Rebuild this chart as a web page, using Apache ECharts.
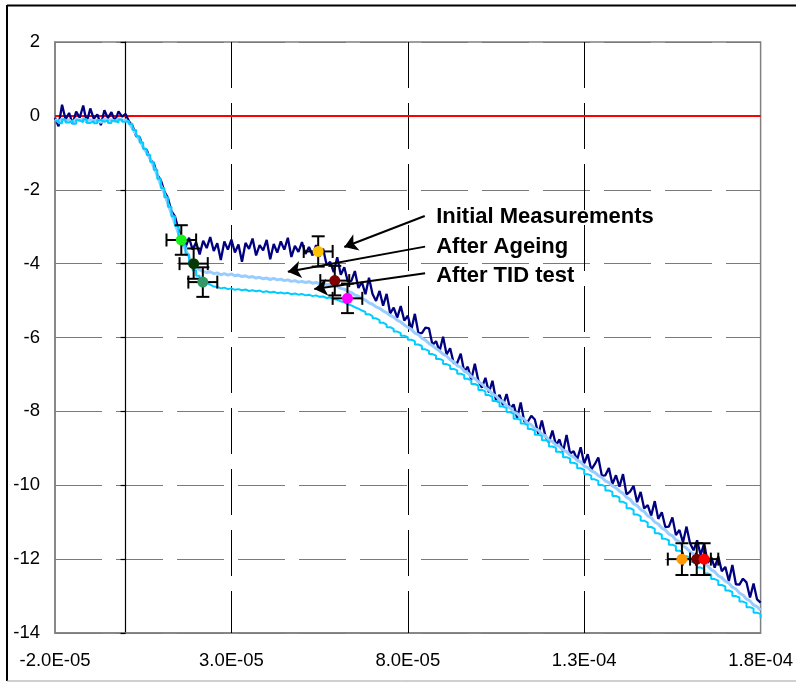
<!DOCTYPE html>
<html>
<head>
<meta charset="utf-8">
<script src="https://cdn.jsdelivr.net/npm/echarts@6/dist/echarts.min.js"></script>
<style>
html, body { margin: 0; padding: 0; background: #fff; }
#chart { width: 796px; height: 682px; }
</style>
</head>
<body>
<div id="chart"></div>
<script>
// Sample times in microseconds (axis labels are shown in seconds)
const timeUs = [
  -20,-19,-18,-17,-16,-15,-14,-13,-12,-11,-10,-9,-8,-7,-6,-5,-4,-3,-2,-1,
  0,1,2,3,4,5,6,7,8,9,10,11,12,13,14,15,16,17,18,19,
  20,21,22,23,24,25,26,27,28,29,30,31,32,33,34,35,36,37,38,39,
  40,41,42,43,44,45,46,47,48,49,50,51,52,53,54,55,56,57,58,59,
  60,61,62,63,64,65,66,67,68,69,70,71,72,73,74,75,76,77,78,79,
  80,81,82,83,84,85,86,87,88,89,90,91,92,93,94,95,96,97,98,99,
  100,101,102,103,104,105,106,107,108,109,110,111,112,113,114,115,116,117,118,119,
  120,121,122,123,124,125,126,127,128,129,130,131,132,133,134,135,136,137,138,139,
  140,141,142,143,144,145,146,147,148,149,150,151,152,153,154,155,156,157,158,159,
  160,161,162,163,164,165,166,167,168,169,170,171,172,173,174,175,176,177,178,179,
  180
];

// Initial Measurements
const initialValues = [
  -0.05,-0.28,0.30,-0.10,0.08,-0.22,0.12,-0.05,0.28,-0.18,0.20,-0.08,0.04,-0.25,0.15,-0.06,0.10,-0.15,0.12,-0.02,
  0.05,-0.15,-0.28,-0.55,-0.58,-0.86,-0.92,-1.18,-1.28,-1.60,-1.74,-2.05,-2.22,-2.58,-2.72,-3.08,-3.30,-3.55,-3.30,-3.62,
  -3.42,-3.75,-3.38,-3.58,-3.28,-3.66,-3.45,-3.90,-3.40,-3.62,-3.35,-3.70,-3.48,-3.95,-3.44,-3.60,-3.32,-3.78,-3.50,-3.64,
  -3.36,-3.88,-3.47,-3.70,-3.40,-3.62,-3.30,-3.82,-3.52,-3.68,-3.42,-3.74,-3.55,-3.78,-3.50,-3.80,-3.60,-4.04,-3.95,-4.23,
  -3.83,-4.30,-4.10,-4.49,-4.47,-4.20,-4.66,-4.50,-4.83,-4.38,-4.82,-5.01,-4.74,-5.14,-4.82,-5.35,-5.19,-5.46,-5.15,-5.54,
  -5.41,-5.79,-5.36,-5.88,-5.88,-5.73,-5.75,-6.20,-6.10,-6.37,-5.98,-6.46,-6.29,-6.69,-6.69,-6.44,-6.93,-6.79,-7.14,-6.71,
  -7.17,-7.36,-7.09,-7.49,-7.17,-7.70,-7.55,-7.83,-7.53,-7.93,-7.81,-8.18,-7.76,-8.27,-8.28,-8.12,-8.22,-8.62,-8.25,-8.67,
  -8.84,-8.52,-8.92,-8.76,-9.10,-8.64,-9.14,-9.08,-9.31,-8.97,-9.41,-9.16,-9.58,-9.43,-9.25,-9.74,-9.73,-9.53,-9.97,-9.73,
  -10.04,-9.70,-10.25,-10.17,-10.02,-10.46,-10.18,-10.63,-10.54,-10.82,-10.43,-10.91,-10.73,-11.13,-11.12,-10.87,-11.35,-11.21,-11.55,-11.12,
  -11.57,-11.76,-11.49,-11.89,-11.57,-12.10,-11.95,-12.23,-11.93,-12.33,-12.21,-12.59,-12.16,-12.68,-12.69,-12.53,-12.63,-13.04,-12.66,-13.09,
  -13.18
];

// After Ageing
const ageingValues = [
  -0.10,-0.16,-0.08,-0.14,-0.11,-0.17,-0.09,-0.13,-0.07,-0.15,-0.10,-0.14,-0.12,-0.18,-0.09,-0.13,-0.10,-0.15,-0.08,-0.12,
  -0.11,-0.20,-0.35,-0.50,-0.66,-0.85,-1.00,-1.17,-1.38,-1.62,-1.88,-2.10,-2.38,-2.65,-2.92,-3.18,-3.42,-3.63,-3.82,-3.98,
  -4.10,-4.17,-4.21,-4.24,-4.22,-4.27,-4.25,-4.30,-4.27,-4.31,-4.28,-4.33,-4.31,-4.35,-4.33,-4.37,-4.35,-4.39,-4.37,-4.41,
  -4.39,-4.43,-4.40,-4.44,-4.42,-4.46,-4.44,-4.48,-4.46,-4.50,-4.48,-4.51,-4.49,-4.53,-4.51,-4.55,-4.53,-4.57,-4.56,-4.60,
  -4.62,-4.67,-4.69,-4.75,-4.78,-4.85,-4.88,-4.95,-4.99,-5.06,-5.10,-5.17,-5.21,-5.28,-5.33,-5.40,-5.45,-5.53,-5.58,-5.66,
  -5.72,-5.78,-5.88,-5.92,-6.02,-6.07,-6.16,-6.22,-6.30,-6.36,-6.45,-6.50,-6.60,-6.66,-6.76,-6.80,-6.91,-6.96,-7.06,-7.11,
  -7.20,-7.26,-7.36,-7.42,-7.53,-7.58,-7.69,-7.74,-7.85,-7.90,-8.02,-8.06,-8.16,-8.21,-8.32,-8.36,-8.47,-8.51,-8.62,-8.66,
  -8.78,-8.82,-8.91,-8.95,-9.05,-9.09,-9.19,-9.23,-9.33,-9.37,-9.48,-9.52,-9.61,-9.65,-9.74,-9.79,-9.88,-9.93,-10.02,-10.07,
  -10.16,-10.22,-10.33,-10.38,-10.50,-10.55,-10.66,-10.71,-10.83,-10.88,-11.00,-11.05,-11.16,-11.21,-11.32,-11.37,-11.48,-11.53,-11.65,-11.70,
  -11.81,-11.86,-11.97,-12.02,-12.13,-12.18,-12.29,-12.34,-12.45,-12.50,-12.60,-12.65,-12.76,-12.81,-12.92,-12.97,-13.08,-13.13,-13.24,-13.29,
  -13.38
];

// After TID test
const tidValues = [
  -0.14,-0.20,-0.10,-0.18,-0.13,-0.21,-0.12,-0.17,-0.09,-0.19,-0.14,-0.20,-0.11,-0.16,-0.12,-0.19,-0.13,-0.18,-0.10,-0.16,
  -0.14,-0.22,-0.38,-0.55,-0.72,-0.90,-1.06,-1.25,-1.46,-1.70,-1.95,-2.20,-2.46,-2.72,-2.98,-3.25,-3.50,-3.75,-3.98,-4.18,
  -4.33,-4.44,-4.52,-4.57,-4.62,-4.63,-4.67,-4.65,-4.69,-4.67,-4.71,-4.69,-4.72,-4.70,-4.74,-4.72,-4.75,-4.73,-4.77,-4.75,
  -4.78,-4.76,-4.80,-4.78,-4.81,-4.79,-4.83,-4.81,-4.84,-4.82,-4.86,-4.84,-4.88,-4.86,-4.90,-4.89,-4.93,-4.92,-4.96,-4.98,
  -5.02,-5.05,-5.10,-5.13,-5.18,-5.22,-5.27,-5.31,-5.37,-5.42,-5.48,-5.53,-5.60,-5.65,-5.72,-5.77,-5.84,-5.88,-5.95,-5.99,
  -6.06,-6.10,-6.19,-6.23,-6.32,-6.36,-6.45,-6.49,-6.58,-6.62,-6.72,-6.76,-6.85,-6.89,-6.98,-7.02,-7.12,-7.16,-7.26,-7.30,
  -7.42,-7.46,-7.56,-7.61,-7.72,-7.76,-7.87,-7.91,-8.02,-8.07,-8.20,-8.23,-8.33,-8.37,-8.48,-8.52,-8.63,-8.67,-8.78,-8.82,
  -8.95,-8.99,-9.09,-9.13,-9.24,-9.28,-9.39,-9.43,-9.54,-9.58,-9.70,-9.74,-9.84,-9.88,-9.99,-10.03,-10.14,-10.18,-10.29,-10.33,
  -10.45,-10.50,-10.62,-10.67,-10.79,-10.84,-10.96,-11.01,-11.13,-11.18,-11.30,-11.34,-11.45,-11.49,-11.61,-11.65,-11.77,-11.81,-11.92,-11.96,
  -12.08,-12.12,-12.23,-12.27,-12.39,-12.43,-12.54,-12.58,-12.70,-12.74,-12.85,-12.89,-13.00,-13.04,-13.15,-13.19,-13.30,-13.34,-13.45,-13.49,
  -13.60
];

// Zero reference line
const refTimeUs = [-20, 180];
const refValues = [0, 0];

// Characteristic points with their uncertainties
const markerTimeUs = [15.8, 19.3, 21.9, 54.6, 59.3, 62.9, 157.7, 161.9, 164.0];
const markerValues = [-3.36, -4.0, -4.5, -3.67, -4.46, -4.94, -12.0, -12.0, -12.0];
const markerTimeErr = [4.2, 4.0, 4.1, 4.1, 4.1, 4.2, 4.0, 4.0, 4.0];
const markerValueErr = [0.4, 0.41, 0.4, 0.41, 0.4, 0.4, 0.43, 0.43, 0.43];
const markerColors = ['#19F019', '#053A05', '#339966', '#FFC000', '#800000', '#FF00FF', '#FF9900', '#7A0000', '#FF0000'];

// Axis tick labels (microseconds)
const xTickValues = [-20, 30, 80, 130, 180];
const xGridValues = [30, 80, 130];

// Annotation texts
const noteTexts = ['Initial Measurements', 'After Ageing', 'After TID test'];

const FONT = '"Liberation Sans", Arial, sans-serif';

function sciLabel(us) {
  const parts = (us * 1e-6).toExponential(1).split('e');
  const exp = parseInt(parts[1], 10);
  return parts[0] + 'E' + (exp < 0 ? '-' : '+') + String(Math.abs(exp)).padStart(2, '0');
}

const pairs = (xs, ys) => xs.map((x, i) => [x, ys[i]]);

// Annotation anchors in data units (µs, value)
const noteAnchors = [[87.9, -2.74], [87.9, -3.55], [87.9, -4.33]];
const arrowLines = [
  [[84.8, -2.71], [62.0, -3.55]],
  [[84.9, -3.54], [46.0, -4.22]],
  [[84.9, -4.26], [53.5, -4.69]]
];

const chart = echarts.init(document.getElementById('chart'), null, { renderer: 'canvas' });

chart.setOption({
  animation: false,
  backgroundColor: '#fff',
  textStyle: { fontFamily: FONT },
  grid: {
    left: 55, top: 42, right: 29, bottom: 49,
    show: true, borderColor: '#808080', borderWidth: 1.5, backgroundColor: 'transparent'
  },
  xAxis: {
    type: 'value', min: -20, max: 180,
    axisLine: { show: true, onZero: false, lineStyle: { color: '#808080', width: 1.5 } },
    axisTick: { show: false },
    splitLine: { show: false },
    axisLabel: {
      customValues: xTickValues,
      formatter: sciLabel,
      fontSize: 18.5, color: '#000', fontFamily: FONT, margin: 18
    }
  },
  yAxis: [
    {
      type: 'value', min: -14, max: 2, interval: 2, position: 'left',
      axisLine: { show: true, onZero: false, lineStyle: { color: '#808080', width: 1.5 } },
      axisTick: { show: false },
      axisLabel: { fontSize: 18.5, color: '#000', fontFamily: FONT, margin: 15 },
      splitLine: { show: true, lineStyle: { color: '#7a7a7a', width: 1.2, type: [47, 14] } }
    },
    {
      type: 'value', min: -14, max: 2, interval: 2, position: 'left',
      axisLine: { show: true, onZero: true, lineStyle: { color: '#000', width: 1.2 } },
      axisTick: { show: true, length: 5, lineStyle: { color: '#000', width: 1.2 } },
      axisLabel: { show: false },
      splitLine: { show: false }
    }
  ],
  graphic: [
    { type: 'line', silent: true, shape: { x1: 7, y1: 5.5, x2: 796, y2: 5.5 }, style: { stroke: '#000', lineWidth: 2 } },
    { type: 'line', silent: true, shape: { x1: 7, y1: 5, x2: 7, y2: 681 }, style: { stroke: '#000', lineWidth: 2 } },
    { type: 'line', silent: true, shape: { x1: 7, y1: 681, x2: 796, y2: 681 }, style: { stroke: '#a0a0a0', lineWidth: 1 } }
  ],
  series: [
    {
      name: 'Zero', type: 'line', z: 1, silent: true, showSymbol: false,
      data: pairs(refTimeUs, refValues),
      lineStyle: { color: '#FF0000', width: 2 },
      markLine: {
        z: 1, silent: true, symbol: ['none', 'none'], label: { show: false },
        lineStyle: { color: '#000', width: 1, type: [46, 15] },
        emphasis: { disabled: true },
        data: xGridValues.map(v => [{ coord: [v, 2] }, { coord: [v, -14] }])
      }
    },
    {
      name: 'Initial Measurements', type: 'line', silent: true, showSymbol: false,
      data: pairs(timeUs, initialValues),
      lineStyle: { color: '#000080', width: 2.3 }
    },
    {
      name: 'After Ageing', type: 'line', silent: true, showSymbol: false,
      data: pairs(timeUs, ageingValues),
      lineStyle: { color: '#99CCFF', width: 3 }
    },
    {
      name: 'After TID test', type: 'line', silent: true, showSymbol: false, step: 'end',
      data: pairs(timeUs, tidValues),
      lineStyle: { color: '#00CCFF', width: 2 }
    },
    {
      name: 'Error bars', type: 'custom', silent: true, z: 4,
      data: markerTimeUs.map((t, i) => [t, markerValues[i], markerTimeErr[i], markerValueErr[i]]),
      renderItem: function (params, api) {
        const x = api.value(0), y = api.value(1), ex = api.value(2), ey = api.value(3);
        const l = api.coord([x - ex, y]), r = api.coord([x + ex, y]);
        const t = api.coord([x, y + ey]), b = api.coord([x, y - ey]);
        const cap = 6.5;
        const st = { stroke: '#000', lineWidth: 2 };
        const seg = (x1, y1, x2, y2) => ({ type: 'line', shape: { x1, y1, x2, y2 }, style: st });
        return {
          type: 'group',
          children: [
            seg(l[0], l[1], r[0], r[1]),
            seg(l[0], l[1] - cap, l[0], l[1] + cap),
            seg(r[0], r[1] - cap, r[0], r[1] + cap),
            seg(t[0], t[1], b[0], b[1]),
            seg(t[0] - cap, t[1], t[0] + cap, t[1]),
            seg(b[0] - cap, b[1], b[0] + cap, b[1])
          ]
        };
      }
    },
    {
      name: 'Points', type: 'scatter', silent: true, z: 5,
      symbol: 'circle', symbolSize: 11,
      data: markerTimeUs.map((t, i) => ({ value: [t, markerValues[i]], itemStyle: { color: markerColors[i], opacity: 1 } })),
      markLine: {
        z: 10, silent: true, symbol: ['none', 'arrow'], symbolSize: 13,
        label: { show: false },
        itemStyle: { color: '#000' },
        lineStyle: { color: '#000', width: 2, type: 'solid' },
        emphasis: { disabled: true },
        data: arrowLines.map(seg => [{ coord: seg[0] }, { coord: seg[1] }])
      },
      markPoint: {
        z: 10, silent: true, symbol: 'circle', symbolSize: 1,
        itemStyle: { color: 'rgba(0,0,0,0)' },
        label: {
          show: true, position: 'right', distance: 0, formatter: '{b}',
          fontFamily: FONT, fontWeight: 'bold', fontSize: 22, color: '#000'
        },
        emphasis: { disabled: true },
        data: noteTexts.map((txt, i) => ({ name: txt, coord: noteAnchors[i] }))
      }
    }
  ]
});
</script>
</body>
</html>
